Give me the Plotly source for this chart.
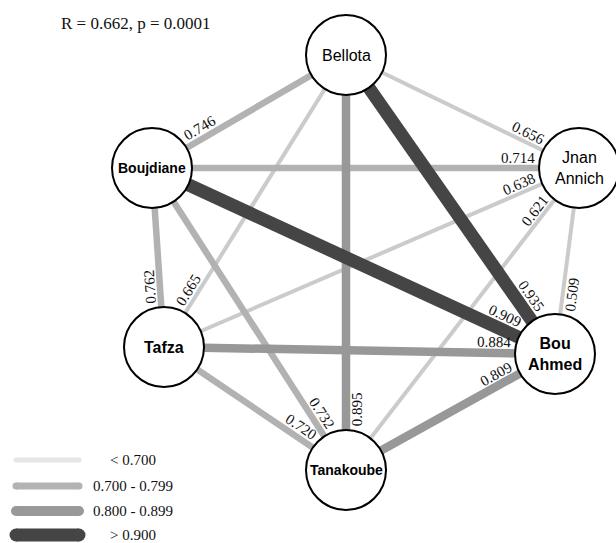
import math
import plotly.graph_objects as go

# ---------------- data ----------------
nodes = ["Bellota", "Jnan Annich", "Boujdiane", "Tafza", "Bou Ahmed", "Tanakoube"]
edge_from = ["Boujdiane", "Bellota", "Boujdiane", "Tafza", "Tanakoube",
             "Jnan Annich", "Bellota", "Boujdiane", "Tafza", "Tanakoube",
             "Boujdiane", "Tafza", "Tafza", "Boujdiane", "Bellota"]
edge_to = ["Bellota", "Jnan Annich", "Jnan Annich", "Jnan Annich", "Jnan Annich",
           "Bou Ahmed", "Bou Ahmed", "Bou Ahmed", "Bou Ahmed", "Bou Ahmed",
           "Tafza", "Bellota", "Tanakoube", "Tanakoube", "Tanakoube"]
edge_r = [0.746, 0.656, 0.714, 0.638, 0.621,
          0.509, 0.935, 0.909, 0.884, 0.809,
          0.762, 0.665, 0.720, 0.732, 0.895]
class_breaks = [0.700, 0.800, 0.900]
legend_labels = ["< 0.700", "0.700 - 0.799", "0.800 - 0.899", "> 0.900"]
title_text = "R = 0.662, p = 0.0001"

# ---------------- layout / style ----------------
W, H = 616, 543
node_pos = {
    "Bellota": (346, 55),
    "Jnan Annich": (579, 168),
    "Boujdiane": (152, 168),
    "Tafza": (164, 347),
    "Bou Ahmed": (555, 354),
    "Tanakoube": (346, 470),
}
node_text = {
    "Bellota": ("Bellota", 16),
    "Jnan Annich": ("Jnan<br>Annich", 16),
    "Boujdiane": ("<b>Boujdiane</b>", 14),
    "Tafza": ("<b>Tafza</b>", 16),
    "Bou Ahmed": ("<b>Bou<br>Ahmed</b>", 16),
    "Tanakoube": ("<b>Tanakoube</b>", 14),
}
label_near = ["from", "to", "to", "to", "to",
              "to", "to", "to", "to", "to",
              "to", "from", "to", "to", "to"]
label_side = [1, 1, 1, 1, 1, -1, 1, 1, 1, 1, 1, 1, 1, 1, -1]
LABEL_DIST = 61

class_colors = ["#cbcbcb", "#b2b2b2", "#989898", "#454545"]
class_widths = [4, 6.5, 8.5, 13]
legend_colors = ["#e6e6e6", "#b3b3b3", "#999999", "#454545"]
legend_widths = [5, 7, 10, 13]

SERIF = "Liberation Serif, Times New Roman, serif"
SANS = "Liberation Sans, Arial, Helvetica, sans-serif"


def r_class(v):
    k = 0
    for b in class_breaks:
        if v >= b:
            k += 1
    return k


fig = go.Figure()

# edges, weakest first so strongest lie on top
order = sorted(range(len(edge_r)), key=lambda i: edge_r[i])
for i in order:
    x0, y0 = node_pos[edge_from[i]]
    x1, y1 = node_pos[edge_to[i]]
    k = r_class(edge_r[i])
    fig.add_trace(go.Scatter(
        x=[x0, x1], y=[y0, y1], mode="lines",
        line=dict(color=class_colors[k], width=class_widths[k]),
        hoverinfo="skip", showlegend=False))

# edge labels
annotations = []
for i, v in enumerate(edge_r):
    x0, y0 = node_pos[edge_from[i]]
    x1, y1 = node_pos[edge_to[i]]
    dx, dy = x1 - x0, y1 - y0
    L = math.hypot(dx, dy)
    ux, uy = dx / L, dy / L
    theta = math.degrees(math.atan2(dy, dx))
    theta = ((theta + 100) % 180) - 100
    upx, upy = math.sin(math.radians(theta)), -math.cos(math.radians(theta))
    if label_near[i] == "from":
        bx, by = x0 + ux * LABEL_DIST, y0 + uy * LABEL_DIST
    else:
        bx, by = x1 - ux * LABEL_DIST, y1 - uy * LABEL_DIST
    off = 7 + class_widths[r_class(v)] / 2
    lx = bx + label_side[i] * off * upx
    ly = by + label_side[i] * off * upy
    annotations.append(dict(
        x=lx, y=ly, xref="x", yref="y", text=f"{v:.3f}", showarrow=False,
        textangle=theta, font=dict(family=SERIF, size=15, color="#111111"),
        xanchor="center", yanchor="middle"))

# nodes
fig.add_trace(go.Scatter(
    x=[node_pos[n][0] for n in nodes], y=[node_pos[n][1] for n in nodes],
    mode="markers",
    marker=dict(size=80, color="white", line=dict(color="black", width=2)),
    hoverinfo="skip", showlegend=False))
for n in nodes:
    t, s = node_text[n]
    annotations.append(dict(
        x=node_pos[n][0], y=node_pos[n][1], xref="x", yref="y", text=t,
        showarrow=False, font=dict(family=SANS, size=s, color="black"),
        xanchor="center", yanchor="middle"))

# legend
leg_y = [460, 486, 511, 535]
for j, lab in enumerate(legend_labels):
    fig.add_trace(go.Scatter(
        x=[16, 79], y=[leg_y[j], leg_y[j]], mode="lines+markers",
        line=dict(color=legend_colors[j], width=legend_widths[j]),
        marker=dict(size=legend_widths[j], color=legend_colors[j]),
        hoverinfo="skip", showlegend=False))
    annotations.append(dict(
        x=133, y=leg_y[j], xref="x", yref="y", text=lab, showarrow=False,
        font=dict(family=SERIF, size=15, color="#111111"),
        xanchor="center", yanchor="middle"))

annotations.append(dict(
    x=136, y=23, xref="x", yref="y", text=title_text, showarrow=False,
    font=dict(family=SERIF, size=17, color="#111111"),
    xanchor="center", yanchor="middle"))

fig.update_layout(
    width=W, height=H, autosize=False,
    margin=dict(l=0, r=0, t=0, b=0),
    paper_bgcolor="white", plot_bgcolor="white",
    xaxis=dict(range=[0, W], visible=False, fixedrange=True),
    yaxis=dict(range=[H, 0], visible=False, fixedrange=True),
    annotations=annotations,
)

fig.write_html("out.html", config={"displayModeBar": False},
               post_script="document.body.style.margin='0';")
